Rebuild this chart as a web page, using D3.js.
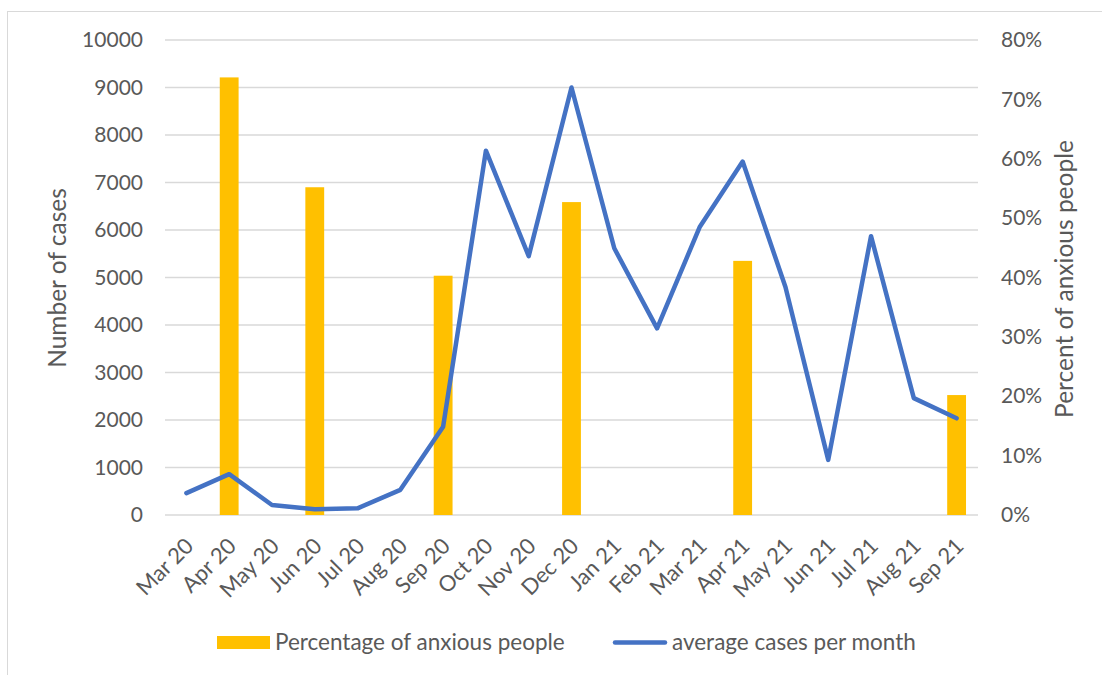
<!DOCTYPE html>
<html>
<head>
<meta charset="utf-8">
<script src="https://cdn.jsdelivr.net/npm/d3@7"></script>
<style>
  body { margin: 0; background: #fff; }
  svg text { font-family: Lato, "Noto Sans", sans-serif; fill: #595959; }
</style>
</head>
<body>
<div id="chart"></div>
<script>
//---------------- data ----------------------
var months = ["Mar 20", "Apr 20", "May 20", "Jun 20", "Jul 20", "Aug 20", "Sep 20", "Oct 20", "Nov 20", "Dec 20",
	"Jan 21", "Feb 21", "Mar 21", "Apr 21", "May 21", "Jun 21", "Jul 21", "Aug 21", "Sep 21"];

// average cases per month (left axis)
var avgCases = [460, 860, 210, 120, 140, 530, 1860, 7670, 5450, 9000,
	5615, 3930, 6070, 7440, 4800, 1160, 5870, 2460, 2035];

// percentage of anxious people (right axis), only surveyed months
var anxiousMonths = ["Apr 20", "Jun 20", "Sep 20", "Dec 20", "Apr 21", "Sep 21"];
var anxiousPct = [0.737, 0.552, 0.403, 0.527, 0.428, 0.202];

var leftTicks = [0, 1000, 2000, 3000, 4000, 5000, 6000, 7000, 8000, 9000, 10000];
var rightTicks = [0, 0.1, 0.2, 0.3, 0.4, 0.5, 0.6, 0.7, 0.8];

//---------------- layout ----------------------
var w = 1102;
var h = 675;
var plotLeft = 165;
var plotRight = 978;
var plotTop = 40;
var plotBottom = 515;

var svg = d3.select("#chart").append("svg").attr("width", w).attr("height", h);

// chart frame
svg.append("rect")
	.attr("x", 7.5).attr("y", 11.5)
	.attr("width", 1200).attr("height", 700)
	.attr("fill", "none")
	.attr("stroke", "#d9d9d9")
	.attr("stroke-width", 1);

//---------------- scales ----------------------
var xScale = d3.scaleBand()
	.domain(months)
	.range([plotLeft, plotRight]);

var yScale = d3.scaleLinear()
	.domain([0, 10000])
	.range([plotBottom, plotTop]);

var yScaleRight = d3.scaleLinear()
	.domain([0, 0.8])
	.range([plotBottom, plotTop]);

//---------------- gridlines ----------------------
svg.append("g")
	.selectAll("line")
	.data(leftTicks)
	.enter()
	.append("line")
	.attr("x1", plotLeft).attr("x2", plotRight)
	.attr("y1", function(d) { return yScale(d); })
	.attr("y2", function(d) { return yScale(d); })
	.attr("stroke", "#d9d9d9")
	.attr("stroke-width", 1.5);

//---------------- axes ----------------------
var yAxis = d3.axisLeft(yScale).tickValues(leftTicks).tickSize(0).tickPadding(0)
	.tickFormat(d3.format("d"));
var gLeft = svg.append("g")
	.attr("transform", "translate(" + 143 + ",0)")
	.call(yAxis);
gLeft.select(".domain").remove();
gLeft.selectAll("text").style("font-size", "21px").attr("fill", "#595959");

var yAxisRight = d3.axisRight(yScaleRight).tickValues(rightTicks).tickSize(0).tickPadding(0)
	.tickFormat(d3.format(".0%"));
var gRight = svg.append("g")
	.attr("transform", "translate(" + 1001 + ",0)")
	.call(yAxisRight);
gRight.select(".domain").remove();
gRight.selectAll("text").style("font-size", "21px").attr("fill", "#595959");

var xAxis = d3.axisBottom(xScale).tickSize(0).tickPadding(0);
var gX = svg.append("g")
	.attr("transform", "translate(0," + 542 + ")")
	.call(xAxis);
gX.select(".domain").remove();
gX.selectAll("text")
	.style("font-size", "22px")
	.attr("fill", "#595959")
	.attr("text-anchor", "end")
	.attr("dy", "0.35em")
	.attr("transform", "translate(3,0) rotate(-45)");

// axis titles
svg.append("text")
	.attr("transform", "translate(66,278) rotate(-90)")
	.style("text-anchor", "middle")
	.style("font-size", "24.5px")
	.text("Number of cases");

svg.append("text")
	.attr("transform", "translate(1073,279) rotate(-90)")
	.style("text-anchor", "middle")
	.style("font-size", "24.5px")
	.text("Percent of anxious people");

//---------------- bars ----------------------
var barWidth = xScale.bandwidth() * 0.44;
svg.append("g")
	.selectAll("rect")
	.data(anxiousMonths)
	.enter()
	.append("rect")
	.attr("x", function(d) { return xScale(d) + xScale.bandwidth() / 2 - barWidth / 2; })
	.attr("y", function(d, i) { return yScaleRight(anxiousPct[i]); })
	.attr("width", barWidth)
	.attr("height", function(d, i) { return yScaleRight(0) - yScaleRight(anxiousPct[i]); })
	.attr("fill", "#FFC000");

//---------------- line ----------------------
var line = d3.line()
	.x(function(d, i) { return xScale(months[i]) + xScale.bandwidth() / 2; })
	.y(function(d) { return yScale(d); });

svg.append("path")
	.datum(avgCases)
	.attr("d", line)
	.attr("fill", "none")
	.attr("stroke", "#4472C4")
	.attr("stroke-width", 4.5)
	.attr("stroke-linejoin", "round")
	.attr("stroke-linecap", "round");

//---------------- legend ----------------
var legend = svg.append("g");
legend.append("rect")
	.attr("x", 217).attr("y", 636)
	.attr("width", 53).attr("height", 13)
	.attr("fill", "#FFC000");
legend.append("text")
	.attr("x", 275).attr("y", 650)
	.style("font-size", "22.5px")
	.text("Percentage of anxious people");

legend.append("line")
	.attr("x1", 615).attr("x2", 665)
	.attr("y1", 642.5).attr("y2", 642.5)
	.attr("stroke", "#4472C4")
	.attr("stroke-width", 4.5)
	.attr("stroke-linecap", "round");
legend.append("text")
	.attr("x", 672).attr("y", 650)
	.style("font-size", "22.5px")
	.text("average cases per month");
</script>
</body>
</html>
